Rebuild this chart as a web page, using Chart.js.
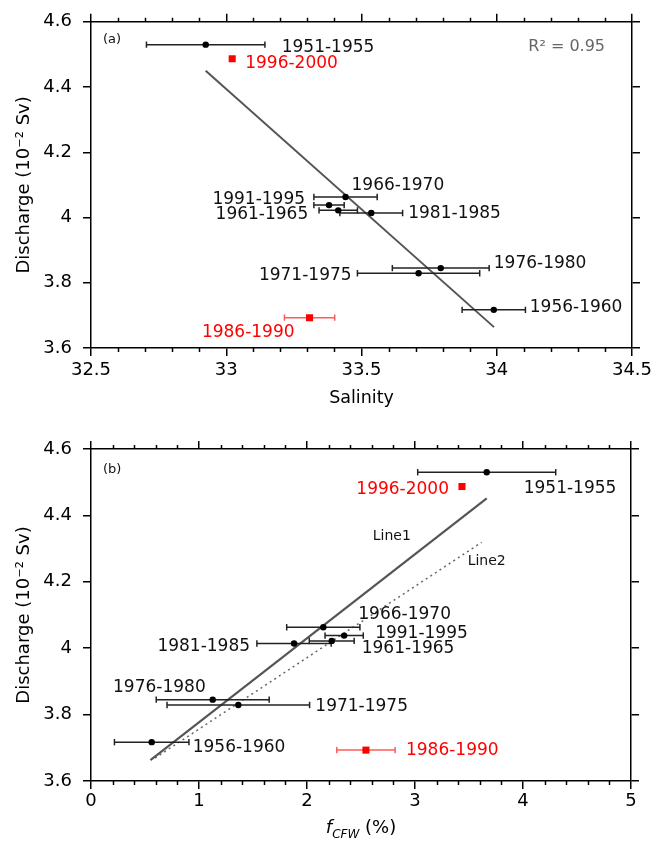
<!DOCTYPE html>
<html lang="en">
<head>
  <meta charset="UTF-8">
  <title>Discharge vs salinity and fCFW</title>
  <script src="https://cdn.jsdelivr.net/npm/chart.js"></script>
  <style>
    body {
      margin: 0;
      padding: 0;
      background: #fff;
    }
    canvas {
      display: block;
    }
  </style>
</head>
<body>
  <canvas id="chartA" width="665" height="420"></canvas>
  <canvas id="chartB" width="665" height="421"></canvas>

  <script>
    // data
    const periods = ['1951-1955', '1956-1960', '1961-1965', '1966-1970', '1971-1975',
                     '1976-1980', '1981-1985', '1986-1990', '1991-1995', '1996-2000'];
    const discharge = [4.53, 3.717, 4.022, 4.063, 3.829, 3.845, 4.014, 3.693, 4.038, 4.487];
    const salinity = [32.924, 33.989, 33.414, 33.441, 33.711, 33.793, 33.536, 33.308, 33.38, 33.022];
    const salinityErr = [0.219, 0.117, 0.071, 0.117, 0.226, 0.179, 0.116, 0.093, 0.056, null];
    const fcfw = [3.664, 0.562, 2.229, 2.151, 1.364, 1.127, 1.88, 2.546, 2.344, 3.435];
    const fcfwErr = [0.639, 0.345, 0.208, 0.339, 0.66, 0.523, 0.344, 0.27, 0.177, null];
    const redPeriods = ['1986-1990', '1996-2000'];

    // fitted lines (end points)
    const fitSalinityX = [32.924, 33.99];
    const fitSalinityY = [4.45, 3.664];
    const line1X = [0.55, 3.664];
    const line1Y = [3.663, 4.451];
    const line2X = [0.593, 3.617];
    const line2Y = [3.669, 4.319];

    // tick labels
    const dischargeTicks = [3.6, 3.8, 4, 4.2, 4.4, 4.6];
    const salinityTicks = [32.5, 33, 33.5, 34, 34.5];
    const fcfwTicks = [0, 1, 2, 3, 4, 5];

    const FONT = "'DejaVu Sans', sans-serif";
    const fmt = v => String(+v.toFixed(2));

    function frameAxis(position, min, max, tickValues, showLabels, size, pad) {
      return {
        type: 'linear',
        position: position,
        min: min,
        max: max,
        afterBuildTicks: s => { s.ticks = tickValues.map(v => ({ value: v })); },
        ticks: {
          display: showLabels,
          color: '#000',
          padding: pad,
          autoSkip: false,
          maxRotation: 0,
          font: { family: FONT, size: 18 },
          callback: fmt
        },
        grid: { drawOnChartArea: false, drawTicks: true, tickLength: 8, color: '#000', lineWidth: 1.5 },
        border: { display: true, color: '#000', width: 1.5 },
        afterFit: s => { if (s.isHorizontal()) s.height = size; else s.width = size; }
      };
    }

    function buildDatasets(xValues, xErr, fits) {
      const black = [];
      const red = [];
      periods.forEach((p, i) => {
        const pt = { x: xValues[i], y: discharge[i] };
        (redPeriods.includes(p) ? red : black).push(pt);
      });
      const sets = [
        { data: black, pointStyle: 'circle', pointRadius: 3.2, backgroundColor: '#000', borderWidth: 0 },
        { data: red, pointStyle: 'rect', pointRadius: 5, backgroundColor: '#f00', borderWidth: 0 }
      ];
      // horizontal error bars
      periods.forEach((p, i) => {
        if (xErr[i] == null) return;
        const c = redPeriods.includes(p) ? '#ff5a5a' : '#222';
        sets.push({
          data: [{ x: xValues[i] - xErr[i], y: discharge[i] }, { x: xValues[i] + xErr[i], y: discharge[i] }],
          showLine: true,
          borderColor: c,
          borderWidth: 1.5,
          pointStyle: 'line',
          pointRotation: 90,
          pointRadius: 3.2,
          pointBorderColor: c,
          pointBorderWidth: 1.5
        });
      });
      fits.forEach(f => {
        sets.push({
          data: f.x.map((x, i) => ({ x: x, y: f.y[i] })),
          showLine: true,
          borderColor: f.color,
          borderWidth: f.width,
          borderDash: f.dash,
          pointRadius: 0
        });
      });
      return sets;
    }

    function panelPlugin(cfg) {
      return {
        id: 'panelText',
        afterDraw(chart) {
          const { ctx, chartArea: area } = chart;
          const xs = chart.scales.x;
          const ys = chart.scales.y;
          ctx.save();

          // minor ticks on top and bottom
          ctx.strokeStyle = '#000';
          ctx.lineWidth = 1.5;
          const n = Math.round((xs.max - xs.min) / cfg.minorStep);
          for (let i = 0; i <= n; i++) {
            const v = xs.min + i * cfg.minorStep;
            if (cfg.xTicks.some(t => Math.abs(t - v) < 1e-6)) continue;
            const px = Math.round(xs.getPixelForValue(v)) + 0.5;
            ctx.beginPath();
            ctx.moveTo(px, area.bottom);
            ctx.lineTo(px, area.bottom + 4);
            ctx.moveTo(px, area.top);
            ctx.lineTo(px, area.top - 4);
            ctx.stroke();
          }

          // period labels
          ctx.textBaseline = 'middle';
          ctx.font = '17px ' + FONT;
          periods.forEach((p, i) => {
            const [dx, dy, align] = cfg.offsets[p];
            ctx.textAlign = align;
            ctx.fillStyle = redPeriods.includes(p) ? '#f00' : '#111';
            ctx.fillText(p, xs.getPixelForValue(cfg.xValues[i]) + dx, ys.getPixelForValue(discharge[i]) + dy);
          });

          // panel tag
          ctx.textAlign = 'left';
          ctx.fillStyle = '#111';
          ctx.font = '13px ' + FONT;
          ctx.fillText(cfg.tag, area.left + 12, area.top + cfg.tagDy);

          if (cfg.extra) cfg.extra(ctx, area, xs, ys);
          ctx.restore();
        }
      };
    }

    function buildPanel(canvasId, cfg) {
      const xBottom = frameAxis('bottom', cfg.xMin, cfg.xMax, cfg.xTicks, true, cfg.sizes.bottom, cfg.xPad);
      if (cfg.xTitle) {
        xBottom.title = {
          display: true, text: cfg.xTitle, color: '#000',
          font: { family: FONT, size: 17.5 }, padding: { top: 0, bottom: cfg.xTitlePad }
        };
      }
      const yLeft = frameAxis('left', 3.6, 4.6, dischargeTicks, true, cfg.sizes.left, 11);
      yLeft.title = {
        display: true, text: 'Discharge (10⁻² Sv)', color: '#000',
        font: { family: FONT, size: 18 }, padding: { top: 14, bottom: 0 }
      };
      return new Chart(document.getElementById(canvasId), {
        type: 'scatter',
        data: { datasets: buildDatasets(cfg.xValues, cfg.xErr, cfg.fits) },
        options: {
          responsive: false,
          animation: false,
          events: [],
          layout: { padding: 0 },
          plugins: { legend: { display: false }, tooltip: { enabled: false } },
          scales: {
            x: xBottom,
            xTop: frameAxis('top', cfg.xMin, cfg.xMax, cfg.xTicks, false, cfg.sizes.top, 0),
            y: yLeft,
            yRight: frameAxis('right', 3.6, 4.6, dischargeTicks, false, cfg.sizes.right, 0)
          }
        },
        plugins: [panelPlugin(cfg)]
      });
    }

    // (a) discharge vs salinity
    buildPanel('chartA', {
      xValues: salinity,
      xErr: salinityErr,
      xMin: 32.5,
      xMax: 34.5,
      xTicks: salinityTicks,
      minorStep: 0.1,
      sizes: { top: 19, bottom: 72, left: 91, right: 33 },
      xPad: 4,
      xTitle: 'Salinity',
      xTitlePad: 11.5,
      fits: [{ x: fitSalinityX, y: fitSalinityY, color: '#555', width: 2, dash: [] }],
      tag: '(a)',
      tagDy: 18,
      offsets: {
        '1951-1955': [76, 3, 'left'],
        '1956-1960': [36, -2, 'left'],
        '1961-1965': [-30, 4, 'right'],
        '1966-1970': [6, -11, 'left'],
        '1971-1975': [-67, 2, 'right'],
        '1976-1980': [53, -5, 'left'],
        '1981-1985': [37, 1, 'left'],
        '1986-1990': [-15, 15, 'right'],
        '1991-1995': [-24, -6, 'right'],
        '1996-2000': [13, 5, 'left']
      },
      extra: (ctx, area) => {
        ctx.font = '16px ' + FONT;
        ctx.fillStyle = '#666';
        ctx.textAlign = 'right';
        ctx.fillText('R² = 0.95', area.right - 27, area.top + 25);
      }
    });

    // (b) discharge vs fCFW
    buildPanel('chartB', {
      xValues: fcfw,
      xErr: fcfwErr,
      xMin: 0,
      xMax: 5,
      xTicks: fcfwTicks,
      minorStep: 0.2,
      sizes: { top: 29, bottom: 60, left: 91, right: 34 },
      xPad: 2,
      fits: [
        { x: line1X, y: line1Y, color: '#555', width: 2.2, dash: [] },
        { x: line2X, y: line2Y, color: '#666', width: 1.5, dash: [2, 3.5] }
      ],
      tag: '(b)',
      tagDy: 21,
      offsets: {
        '1951-1955': [37, 16, 'left'],
        '1956-1960': [41, 5, 'left'],
        '1961-1965': [30, 8, 'left'],
        '1966-1970': [35, -13, 'left'],
        '1971-1975': [77, 2, 'left'],
        '1976-1980': [-7, -12, 'right'],
        '1981-1985': [-44, 3, 'right'],
        '1986-1990': [40, 0, 'left'],
        '1991-1995': [31, -2, 'left'],
        '1996-2000': [-13, 3, 'right']
      },
      extra: (ctx, area, xs, ys) => {
        // line names
        ctx.font = '14px ' + FONT;
        ctx.fillStyle = '#111';
        ctx.textAlign = 'left';
        ctx.fillText('Line1', xs.getPixelForValue(line1X[1]) - 114, ys.getPixelForValue(line1Y[1]) + 38);
        ctx.fillText('Line2', xs.getPixelForValue(line2X[1]) - 14, ys.getPixelForValue(line2Y[1]) + 19);

        // x axis title: f_CFW (%)
        const base = area.bottom + 52;
        const parts = [
          { t: 'f', font: 'italic 18px ' + FONT, dy: 0 },
          { t: 'CFW', font: 'italic 12px ' + FONT, dy: 5 },
          { t: ' (%)', font: '18px ' + FONT, dy: 0 }
        ];
        ctx.textBaseline = 'alphabetic';
        let total = 0;
        parts.forEach(p => { ctx.font = p.font; p.w = ctx.measureText(p.t).width; total += p.w; });
        let x = (area.left + area.right) / 2 - total / 2;
        ctx.fillStyle = '#000';
        parts.forEach(p => {
          ctx.font = p.font;
          ctx.fillText(p.t, x, base + p.dy);
          x += p.w;
        });
      }
    });
  </script>
</body>
</html>
